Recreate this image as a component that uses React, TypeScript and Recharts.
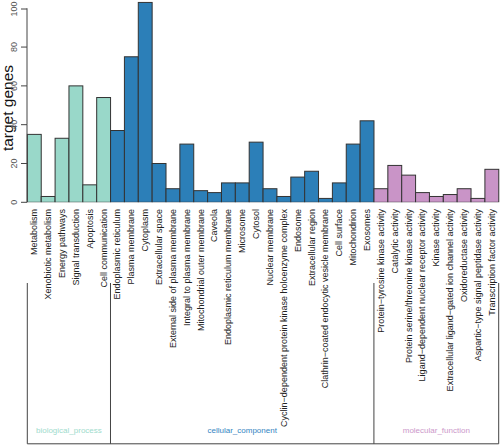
import React from "react";
import { BarChart, Bar, XAxis, YAxis, Cell } from "recharts";

const bioCats = ["Metabolism", "Xenobiotic metabolism", "Energy pathways", "Signal transduction", "Apoptosis", "Cell communication"];
const bioVals = [35, 3, 33, 60, 9, 54];

const ccCats = [
  "Endoplasmic reticulum", "Plasma membrane", "Cytoplasm", "Extracellular space",
  "External side of plasma membrane", "Integral to plasma membrane", "Mitochondrial outer membrane",
  "Caveola", "Endoplasmic reticulum membrane", "Microsome", "Cytosol", "Nuclear membrane",
  "Cyclin\u2212dependent protein kinase holoenzyme complex", "Endosome", "Extracellular region",
  "Clathrin\u2212coated endocytic vesicle membrane", "Cell surface", "Mitochondrion", "Exosomes",
];
const ccVals = [37, 75, 103, 20, 7, 30, 6, 5, 10, 10, 31, 7, 3, 13, 16, 2, 10, 30, 42];

const mfCats = [
  "Protein\u2212tyrosine kinase activity", "Catalytic activity", "Protein serine/threonine kinase activity",
  "Ligand\u2212dependent nuclear receptor activity", "Kinase activity",
  "Extracellular ligand\u2212gated ion channel activity", "Oxidoreductase activity",
  "Aspartic\u2212type signal peptidase activity", "Transcription factor activity",
];
const mfVals = [7, 19, 14, 5, 3, 4, 7, 2, 17];

const groupNames = ["biological_process", "cellular_component", "molecular_function"];
const groupFill = ["#99d8c9", "#2c7fb8", "#c994c7"];
const groupText = ["#9edbcc", "#3385c2", "#cc98ca"];
const yTicks = [0, 20, 40, 60, 80, 100];

const groups = [
  { cats: bioCats, vals: bioVals },
  { cats: ccCats, vals: ccVals },
  { cats: mfCats, vals: mfVals },
];

const data: { name: string; value: number; g: number; first: boolean; len: number }[] = [];
groups.forEach((gr, gi) => {
  gr.cats.forEach((c, i) => {
    data.push({ name: c, value: gr.vals[i], g: gi, first: i === 0, len: gr.cats.length });
  });
});

const W = 500;
const H = 445;
const M_TOP = 0.5;
const M_RIGHT = 1.3;
const Y_W = 27.3;
const X_H = 242.7;
const Y_MAX = 104;
const PLOT_W = W - M_RIGHT - Y_W;
const PLOT_H = H - M_TOP - X_H;
const BW = PLOT_W / data.length;
const PX_PER = PLOT_H / Y_MAX;
const FONT = "'Liberation Sans', Arial, Helvetica, sans-serif";
const LINE = "#444";

const XTick = (props: any) => {
  const { x, y, payload, index } = props;
  const d = data[index];
  const left = x - BW / 2;
  const nodes: React.ReactNode[] = [];
  nodes.push(
    <text
      key="t"
      x={x}
      y={y + 6.7}
      transform={`rotate(-90, ${x}, ${y + 6.7})`}
      textAnchor="end"
      dominantBaseline="central"
      fontSize={9}
      fill="#222"
      fontFamily={FONT}
    >
      {payload.value}
    </text>
  );
  if (index === 0) {
    nodes.push(<line key="h" x1={left} x2={left + data.length * BW} y1={y + 241.5} y2={y + 241.5} stroke={LINE} strokeWidth={1} />);
  }
  if (d && d.first) {
    nodes.push(<line key="v" x1={left} x2={left} y1={y + 80.7} y2={y + 241.5} stroke={LINE} strokeWidth={1} />);
    nodes.push(
      <text
        key="g"
        x={left + (d.len * BW) / 2}
        y={y + 227.7}
        textAnchor="middle"
        dominantBaseline="central"
        fontSize={8}
        fill={groupText[d.g]}
        fontFamily={FONT}
      >
        {groupNames[d.g]}
      </text>
    );
  }
  if (index === data.length - 1) {
    nodes.push(<line key="vr" x1={x + BW / 2} x2={x + BW / 2} y1={y + 80.7} y2={y + 241.5} stroke={LINE} strokeWidth={1} />);
  }
  return <g>{nodes}</g>;
};

const YTick = (props: any) => {
  const { x, y, payload } = props;
  const ax = x - 0.3;
  return (
    <g>
      <line x1={ax - 6} x2={ax} y1={y} y2={y} stroke={LINE} strokeWidth={1} />
      {payload.value < 100 ? (
        <line x1={ax} x2={ax} y1={y} y2={y - 20 * PX_PER} stroke={LINE} strokeWidth={1} />
      ) : null}
      <text
        x={ax - 13}
        y={y}
        transform={`rotate(-90, ${ax - 13}, ${y})`}
        textAnchor="middle"
        dominantBaseline="central"
        fontSize={9}
        fill="#555"
        fontFamily={FONT}
      >
        {payload.value}
      </text>
    </g>
  );
};

const FullBar = (props: any) => {
  const { x, y, width, height, fill } = props;
  if (height == null || width == null) return null;
  const cx = x + width / 2;
  return (
    <rect x={cx - BW / 2} y={y} width={BW} height={height} fill={fill} stroke="#333" strokeWidth={1} />
  );
};

export default function App() {
  return (
    <div style={{ position: "absolute", left: 0, top: 0, width: W, height: H, background: "#fff" }}>
      <BarChart
        width={W}
        height={H}
        data={data}
        margin={{ top: M_TOP, right: M_RIGHT, left: 0, bottom: 0 }}
        barCategoryGap="0%"
        barGap={0}
        style={{ fontFamily: FONT }}
      >
        <XAxis
          dataKey="name"
          interval={0}
          height={X_H}
          tickLine={false}
          axisLine={false}
          tickSize={0}
          tickMargin={0}
          tick={<XTick />}
        />
        <YAxis
          width={Y_W}
          domain={[0, Y_MAX]}
          ticks={yTicks}
          tickLine={false}
          axisLine={false}
          tickSize={0}
          tickMargin={0}
          allowDataOverflow
          tick={<YTick />}
        />
        <Bar dataKey="value" isAnimationActive={false} shape={<FullBar />}>
          {data.map((d, i) => (
            <Cell key={i} fill={groupFill[d.g]} />
          ))}
        </Bar>
        <text
          x={7}
          y={108}
          transform="rotate(-90, 7, 108)"
          textAnchor="middle"
          dominantBaseline="central"
          fontSize={15.5}
          fill="#111"
          fontFamily={FONT}
        >
          target genes
        </text>
      </BarChart>
    </div>
  );
}
